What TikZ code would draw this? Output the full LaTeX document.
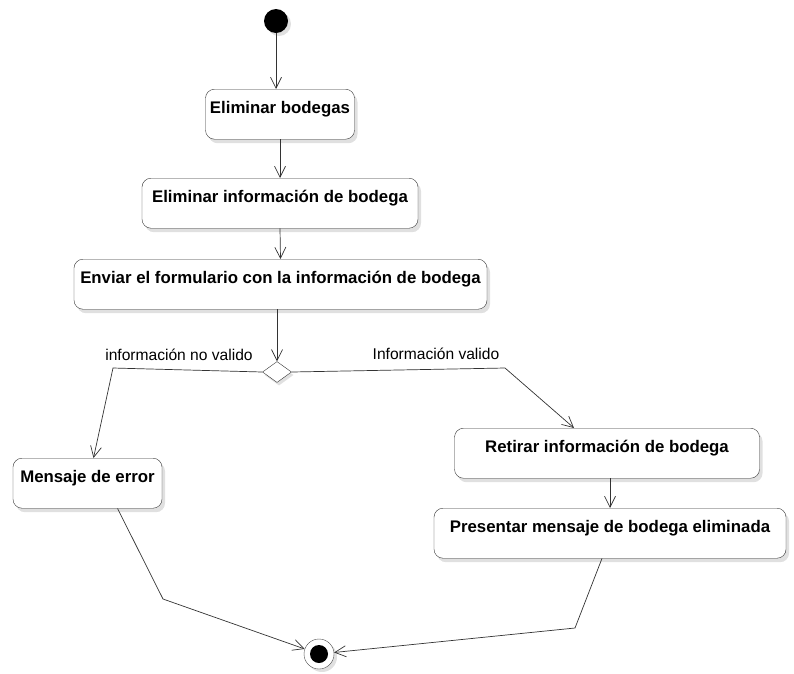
\documentclass[tikz,border=0pt]{standalone}
\usepackage{fontspec}
\setmainfont{Liberation Sans}
\usetikzlibrary{arrows.meta,positioning,shapes.geometric,shadows}

\begin{document}
\begin{tikzpicture}[x=1pt, y=-1pt,
  box/.style={draw=black!80, rectangle, rounded corners=9pt, anchor=north, fill=white,
    inner xsep=4pt, inner ysep=0pt, text height=24pt, text depth=26pt,
    font=\fontsize{16.8}{19}\selectfont\bfseries,
    drop shadow={shadow xshift=3pt, shadow yshift=-4pt, fill=black!12, opacity=1}},
  arrow/.style={-{Straight Barb[length=11pt, width=11pt]}, draw=black!80, line width=0.7pt},
  guard/.style={font=\fontsize{15.6}{18}\selectfont}
]
\useasboundingbox (0,0) rectangle (794,673);

% Start and end states
\node[circle, fill=black, minimum size=24pt, inner sep=0pt,
  drop shadow={shadow xshift=3pt, shadow yshift=-3pt, fill=black!12, opacity=1}] (init) at (276,21) {};
\node[circle, draw=black!70, fill=white, minimum size=30pt, inner sep=0pt,
  drop shadow={shadow xshift=3pt, shadow yshift=-3pt, fill=black!12, opacity=1}] (fin) at (319,654) {};
\node[circle, fill=black, minimum size=18pt, inner sep=0pt] (finin) at (fin) {};

% Actions
\node[box, minimum width=149pt] (elim) at (280,89) {Eliminar bodegas};
\node[box, minimum width=276pt] (elimInfo) at (280,178) {Eliminar información de bodega};
\node[box, minimum width=413pt] (enviar) at (280.5,259) {Enviar el formulario con la información de bodega};
\node[box, minimum width=149pt] (error) at (87.5,458) {Mensaje de error};
\node[box, minimum width=305pt] (retirar) at (607,428) {Retirar información de bodega};
\node[box, minimum width=352pt] (present) at (610,508) {Presentar mensaje de bodega eliminada};

% Decision
\node[diamond, draw=black!80, fill=white, minimum width=29pt, minimum height=21pt, inner sep=0pt,
  drop shadow={shadow xshift=2pt, shadow yshift=-3pt, fill=black!12, opacity=1}] (dec) at (277,372) {};

% Guards
\node[guard] (noValido) at (179,355) {información no valido};
\node[guard] (valido) at (436,354) {Información valido};

% Bends
\coordinate (lbend) at (113,368);
\coordinate (rbend) at (505,368);
\coordinate (ebend) at (163,599);
\coordinate (pbend) at (575,628);

% Transitions
\draw[arrow] (init) -- (init |- elim.north);
\draw[arrow] (elim.south) -- (elimInfo.north);
\draw[arrow] (elimInfo.south) -- (enviar.north);
\draw[arrow] (dec |- enviar.south) -- (dec.north);
\draw[arrow] (dec.west) -- (lbend) -- ([xshift=6pt]error.north);
\draw[arrow] (dec.east) -- (rbend) -- ([xshift=-33pt]retirar.north);
\draw[arrow] ([xshift=3pt]retirar.south) -- ([xshift=3pt]retirar.south |- present.north);
\draw[arrow] ([xshift=30pt]error.south) -- (ebend) -- (fin);
\draw[arrow] ([xshift=-8pt]present.south) -- (pbend) -- (fin);

\end{tikzpicture}
\end{document}
